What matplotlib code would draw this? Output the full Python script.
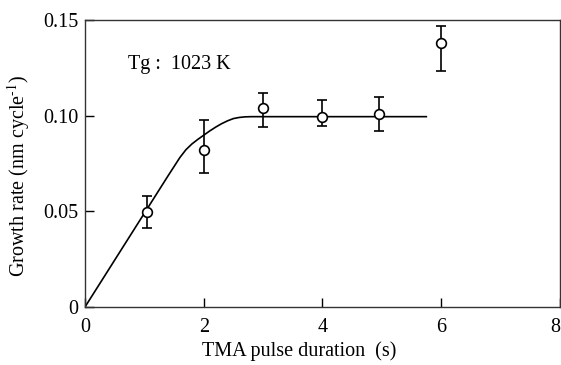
import matplotlib
matplotlib.use("Agg")
import matplotlib.pyplot as plt

plt.rcParams["font.family"] = ["Liberation Serif", "DejaVu Serif"]
plt.rcParams["mathtext.fontset"] = "stix"

# measured points
pulse = [1.04, 2.0, 3.0, 4.0, 4.95, 6.0]
rate = [0.0495, 0.0819, 0.1039, 0.0992, 0.1009, 0.1378]
err_lo = [0.0080, 0.0117, 0.0099, 0.0046, 0.0087, 0.0142]
err_hi = [0.0085, 0.0161, 0.0078, 0.0091, 0.0087, 0.0092]

# fitted curve
fit_x = [0, 0.5, 1.0, 1.4, 1.6, 1.7, 1.8, 1.9, 2.0, 2.1, 2.2, 2.3, 2.4, 2.5, 2.6, 2.7, 2.8, 3.5, 4.5, 5.75]
fit_y = [0, 0.0245, 0.049, 0.0686, 0.0782, 0.0822, 0.0852, 0.0876, 0.0898, 0.0920, 0.0940, 0.0958,
         0.0973, 0.0985, 0.0991, 0.0994, 0.0995, 0.0995, 0.0995, 0.0995]

fig = plt.figure(figsize=(5.61, 3.65), dpi=100)
ax = fig.add_axes([0.1515, 0.159, 0.8465, 0.786])

ax.plot(fit_x, fit_y, color="black", lw=1.2)
ax.errorbar(pulse, rate, yerr=[err_lo, err_hi], fmt="o", ms=7, mfc="white", mec="black",
            mew=1.2, ecolor="black", elinewidth=1.2, capsize=3.8, capthick=1.2, zorder=3)

ax.text(0.72, 0.127, "Tg :  1023 K", fontsize=14.5, va="center", ha="left")

ax.set_xlim(0, 8)
ax.set_ylim(0, 0.15)
ax.set_xticks([0, 2, 4, 6, 8])
ax.set_xticklabels(["0", "2", "4", "6", "8"])
ax.set_yticks([0, 0.05, 0.10, 0.15])
ax.set_yticklabels(["0", "0.05", "0.10", "0.15"])
ax.tick_params(direction="in", length=6.5, width=1, labelsize=14.5, top=False, right=False)
ax.tick_params(axis="x", pad=8)
ax.tick_params(axis="y", pad=5)
ax.get_xticklabels()[-1].set_ha("right")
for s in ax.spines.values():
    s.set_linewidth(1.0)
    s.set_color("#333333")

ax.set_xlabel("TMA pulse duration  (s)", fontsize=14.5)
ax.set_ylabel("Growth rate (nm cycle$^{\\text{-1}}$)", fontsize=14.5)
ax.xaxis.set_label_coords(0.45, -0.12)
ax.yaxis.set_label_coords(-0.112, 0.456)

fig.savefig("out.png", dpi=100)
